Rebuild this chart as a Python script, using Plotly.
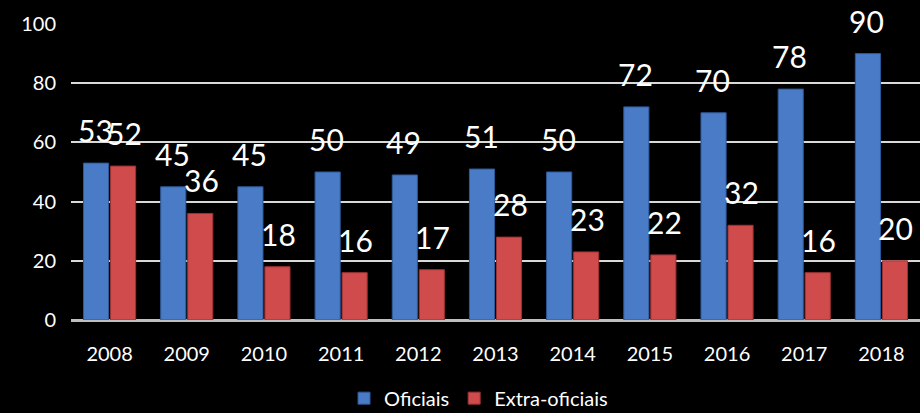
import plotly.graph_objects as go

years = ['2008', '2009', '2010', '2011', '2012', '2013', '2014', '2015', '2016', '2017', '2018']
oficiais = [53, 45, 45, 50, 49, 51, 50, 72, 70, 78, 90]
extra_oficiais = [52, 36, 18, 16, 17, 28, 23, 22, 32, 16, 20]

blue = '#4a7bc6'
red = '#d04b4b'
label_font = dict(family='Lato, Open Sans, sans-serif', size=30, color='white')

fig = go.Figure()
fig.add_trace(go.Bar(x=years, y=oficiais, name='Oficiais',
                     marker=dict(color=blue, line=dict(color='#2f5a9a', width=1))))
fig.add_trace(go.Bar(x=years, y=extra_oficiais, name='Extra-oficiais',
                     marker=dict(color=red, line=dict(color='#9c3232', width=1))))

# value labels sit well above the bars, like the original
# (annotations on a category axis take the category index)
annotations = []
for i, (a, b) in enumerate(zip(oficiais, extra_oficiais)):
    annotations.append(dict(x=i, y=a, xshift=-14.5, yshift=13, text=str(a),
                            showarrow=False, yanchor='bottom', font=label_font))
    annotations.append(dict(x=i, y=b, xshift=14.5, yshift=13, text=str(b),
                            showarrow=False, yanchor='bottom', font=label_font))

fig.update_layout(
    width=920, height=413,
    margin=dict(l=71, r=0, t=24, b=93, autoexpand=False),
    plot_bgcolor='black',
    paper_bgcolor='black',
    barmode='group',
    bargap=0.3,
    bargroupgap=0.07,
    font=dict(family='Lato, Open Sans, sans-serif', color='white', size=20),
    xaxis=dict(type='category', range=[-0.5, 10.5], showgrid=False, showline=False, ticks='',
               ticklabelstandoff=20, tickfont=dict(size=20)),
    yaxis=dict(range=[0, 100], dtick=20, showgrid=True, gridcolor='#d9d9d9',
               gridwidth=2, zeroline=True, zerolinecolor='#bfbfbf', zerolinewidth=3,
               ticks='', ticklabelstandoff=14, tickfont=dict(size=20)),
    showlegend=True,
    legend=dict(orientation='h', x=0.48, xanchor='center', y=-0.264, yanchor='middle',
                font=dict(size=20), itemwidth=30, bgcolor='rgba(0,0,0,0)'),
    annotations=annotations,
)

fig.write_html('out.html', config={'displayModeBar': False},
               post_script="document.body.style.margin='0';")
